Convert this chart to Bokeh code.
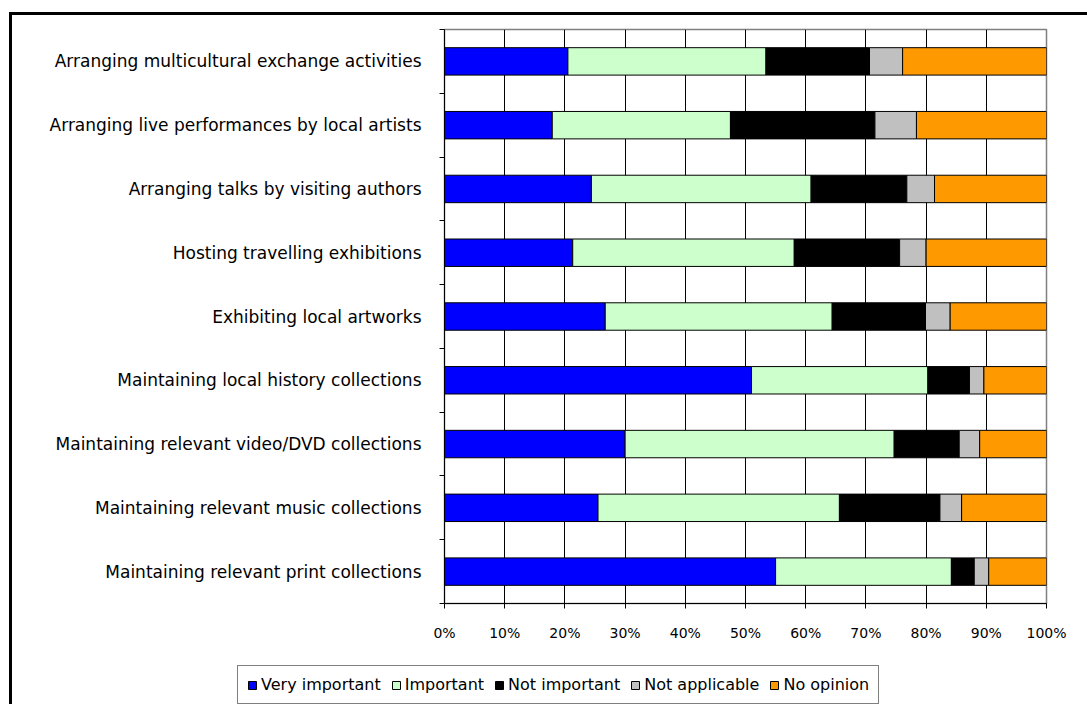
from bokeh.plotting import figure
from bokeh.models import FixedTicker, Legend, Range1d, InlineStyleSheet
from bokeh.layouts import column
from bokeh.embed import file_html
from bokeh.resources import INLINE

# Categories listed top to bottom
categories = [
    "Arranging multicultural exchange activities",
    "Arranging live performances by local artists",
    "Arranging talks by visiting authors",
    "Hosting travelling exhibitions",
    "Exhibiting local artworks",
    "Maintaining local history collections",
    "Maintaining relevant video/DVD collections",
    "Maintaining relevant music collections",
    "Maintaining relevant print collections",
]
very_important = [20.5, 17.9, 24.4, 21.3, 26.7, 51.0, 30.0, 25.5, 55.0]
important      = [32.9, 29.6, 36.5, 36.8, 37.7, 29.3, 44.7, 40.1, 29.2]
not_important  = [17.2, 24.0, 15.9, 17.5, 15.5, 6.9, 10.8, 16.7, 3.8]
not_applicable = [5.5, 6.9, 4.6, 4.4, 4.1, 2.4, 3.4, 3.6, 2.4]
no_opinion     = [23.9, 21.6, 18.6, 20.0, 16.0, 10.4, 11.1, 14.1, 9.6]

series_names = ["Very important", "Important", "Not important", "Not applicable", "No opinion"]
series_keys = ["vi", "im", "ni", "na", "no"]
colors = ["#0000FF", "#CCFFCC", "#000000", "#C0C0C0", "#FF9900"]
x_ticks = list(range(0, 101, 10))

n = len(categories)
ypos = [n - i - 0.5 for i in range(n)]
data = dict(y=ypos, vi=very_important, im=important, ni=not_important,
            na=not_applicable, no=no_opinion)

FONT = "DejaVu Sans"

# ---- main chart ----
p = figure(width=1087, height=650, output_backend="svg", toolbar_location=None,
           x_range=Range1d(0, 100), y_range=Range1d(0, n),
           min_border_left=444, min_border_right=41, min_border_top=29,
           min_border_bottom=47)

p.hbar_stack(series_keys, y="y", height=0.43, source=data,
             color=colors, line_color="black", line_width=1)

p.xaxis.ticker = FixedTicker(ticks=x_ticks)
p.xaxis.major_label_overrides = {t: f"{t}%" for t in x_ticks}
p.xaxis.major_tick_out = 5
p.xaxis.major_tick_in = 0
p.xaxis.minor_tick_out = 0
p.xaxis.minor_tick_in = 0
p.xaxis.axis_line_color = "black"
p.xaxis.major_tick_line_color = "black"
p.xaxis.major_label_text_font = FONT
p.xaxis.major_label_text_font_size = "14px"
p.xaxis.major_label_text_color = "black"
p.xaxis.major_label_standoff = 16

p.yaxis.ticker = FixedTicker(ticks=ypos, minor_ticks=list(range(0, n + 1)))
p.yaxis.major_label_overrides = {y: c for y, c in zip(ypos, categories)}
p.yaxis.major_tick_out = 0
p.yaxis.major_tick_in = 0
p.yaxis.minor_tick_out = 5
p.yaxis.minor_tick_in = 0
p.yaxis.minor_tick_line_color = "black"
p.yaxis.axis_line_color = "black"
p.yaxis.major_label_text_font = FONT
p.yaxis.major_label_text_font_size = "17px"
p.yaxis.major_label_text_color = "black"
p.yaxis.major_label_standoff = 18

p.xgrid.grid_line_color = "black"
p.xgrid.grid_line_width = 1
p.ygrid.grid_line_color = None
p.outline_line_color = "#808080"
p.outline_line_width = 1.5

# ---- legend strip (its own frame spans the whole strip) ----
lg = figure(width=1087, height=54, output_backend="svg", toolbar_location=None,
            x_axis_location=None, y_axis_location=None,
            x_range=Range1d(0, 100), y_range=Range1d(100, 101),
            min_border_left=0, min_border_right=0, min_border_top=0,
            min_border_bottom=0)
try:
    lg.frame_align = False
except Exception:
    pass
try:
    p.frame_align = False
except Exception:
    pass
lg.xgrid.grid_line_color = None
lg.ygrid.grid_line_color = None
lg.outline_line_color = None
# same series; the bars fall outside this strip's range, only the legend shows
legend_renderers = lg.hbar_stack(series_keys, y="y", height=0.43, source=data,
                                 color=colors, line_color="black", line_width=1)

legend = Legend(items=[(name, [r]) for name, r in zip(series_names, legend_renderers)],
                orientation="horizontal", location=(237, 0))
legend.label_text_font = FONT
legend.label_text_font_size = "16px"
legend.label_text_color = "black"
legend.glyph_width = 10
legend.glyph_height = 10
legend.label_standoff = 4
legend.spacing = 10
legend.padding = 9
legend.margin = 0
legend.border_line_color = "black"
legend.border_line_width = 1
legend.background_fill_color = "white"
legend.background_fill_alpha = 1
lg.add_layout(legend, "center")

layout = column(p, lg, spacing=0)

# outer frame of the original figure (left and top edges visible)
layout.stylesheets = [InlineStyleSheet(css="""
:host { position: relative; }
:host::after {
  content: ""; position: absolute; left: 9px; top: 12px;
  width: calc(100% - 9px); height: calc(100% - 12px);
  border-left: 3px solid black; border-top: 3px solid black;
  box-sizing: border-box; pointer-events: none;
}
""")]

open("out.html", "w").write(file_html(layout, INLINE))
